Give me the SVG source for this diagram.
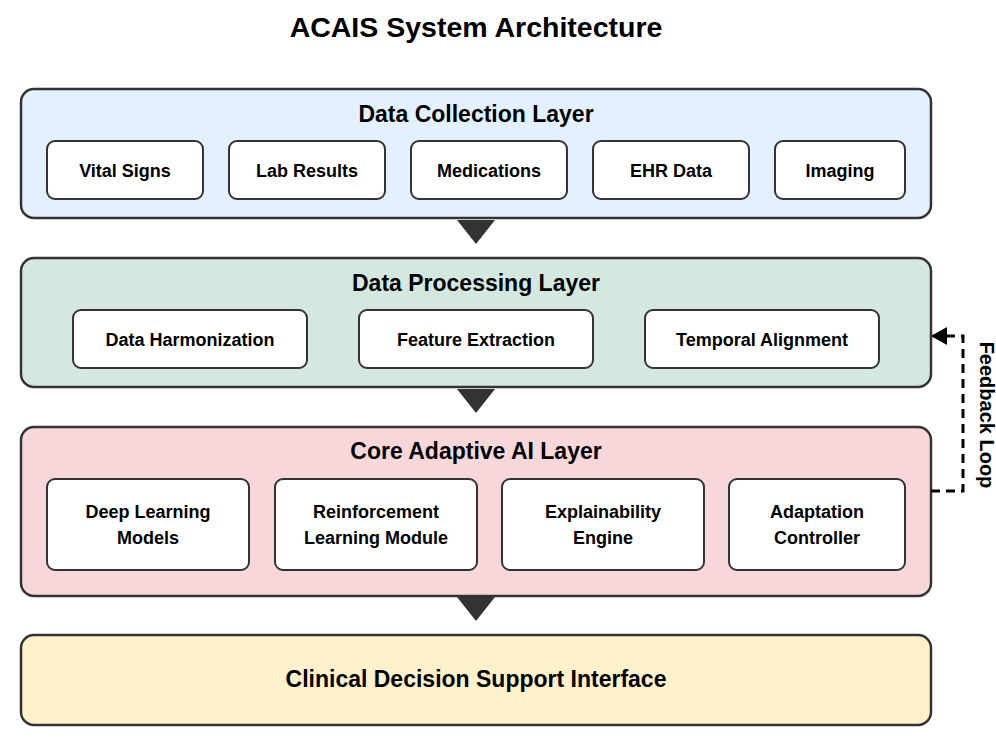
<svg xmlns="http://www.w3.org/2000/svg" width="996" height="739" viewBox="0 0 996 739">
<style>
.layer{stroke:#333;stroke-width:2.5}
.box{fill:#fff;stroke:#333;stroke-width:2}
text{font-family:"Liberation Sans",Arial,sans-serif;font-weight:bold;fill:#000;text-anchor:middle}
.lt{font-size:23px}
.bt{font-size:18px}
.tri{fill:#333}
</style>
<defs>
<marker id="ah" markerWidth="16" markerHeight="18" refX="14" refY="9" orient="auto" markerUnits="userSpaceOnUse">
<path d="M0,0 L16,9 L0,18 Z" fill="#000"/>
</marker>
</defs>
<rect width="996" height="739" fill="#fff"/>
<text x="476" y="37" style="font-size:28.5px">ACAIS System Architecture</text>

<g id="layer-collection">
<rect class="layer" x="21" y="89" width="910" height="129" rx="13" fill="#e3f0fd"/>
<text class="lt" x="476" y="122">Data Collection Layer</text>
<g id="vital"><rect class="box" x="47" y="141" width="156" height="58" rx="8"/><text class="bt" x="125" y="177">Vital Signs</text></g>
<g id="lab"><rect class="box" x="229" y="141" width="156" height="58" rx="8"/><text class="bt" x="307" y="177">Lab Results</text></g>
<g id="meds"><rect class="box" x="411" y="141" width="156" height="58" rx="8"/><text class="bt" x="489" y="177">Medications</text></g>
<g id="ehr"><rect class="box" x="593" y="141" width="156" height="58" rx="8"/><text class="bt" x="671" y="177">EHR Data</text></g>
<g id="imaging"><rect class="box" x="775" y="141" width="130" height="58" rx="8"/><text class="bt" x="840" y="177">Imaging</text></g>
</g>

<g id="layer-processing">
<rect class="layer" x="21" y="258" width="910" height="129" rx="13" fill="#d4e8df"/>
<text class="lt" x="476" y="291">Data Processing Layer</text>
<g id="harmonization"><rect class="box" x="73" y="310" width="234" height="58" rx="8"/><text class="bt" x="190" y="346">Data Harmonization</text></g>
<g id="feature"><rect class="box" x="359" y="310" width="234" height="58" rx="8"/><text class="bt" x="476" y="346">Feature Extraction</text></g>
<g id="temporal"><rect class="box" x="645" y="310" width="234" height="58" rx="8"/><text class="bt" x="762" y="346">Temporal Alignment</text></g>
</g>

<g id="layer-core">
<rect class="layer" x="21" y="427" width="910" height="169" rx="13" fill="#f8d7da"/>
<text class="lt" x="476" y="459">Core Adaptive AI Layer</text>
<g id="deep"><rect class="box" x="47" y="479" width="202" height="91" rx="8"/><text class="bt" x="148" y="518">Deep Learning</text><text class="bt" x="148" y="544">Models</text></g>
<g id="rl"><rect class="box" x="275" y="479" width="202" height="91" rx="8"/><text class="bt" x="376" y="518">Reinforcement</text><text class="bt" x="376" y="544">Learning Module</text></g>
<g id="xai"><rect class="box" x="502" y="479" width="202" height="91" rx="8"/><text class="bt" x="603" y="518">Explainability</text><text class="bt" x="603" y="544">Engine</text></g>
<g id="adapt"><rect class="box" x="729" y="479" width="176" height="91" rx="8"/><text class="bt" x="817" y="518">Adaptation</text><text class="bt" x="817" y="544">Controller</text></g>
</g>

<g id="layer-interface">
<rect class="layer" x="21" y="635" width="910" height="90" rx="13" fill="#fff1cc"/>
<text x="476" y="687" style="font-size:23px">Clinical Decision Support Interface</text>
</g>

<g id="connectors">
<path class="tri" d="M457,220 L495,220 L476,244 Z"/>
<path class="tri" d="M457,389 L495,389 L476,413 Z"/>
<path class="tri" d="M457,597 L495,597 L476,621 Z"/>
<path d="M931,491 L963,491 L963,336 L933,336" fill="none" stroke="#000" stroke-width="3" stroke-dasharray="9,6" marker-end="url(#ah)"/>
<text x="985" y="415" transform="rotate(90 985 415)" style="font-size:20px;dominant-baseline:middle">Feedback Loop</text>
</g>
</svg>
